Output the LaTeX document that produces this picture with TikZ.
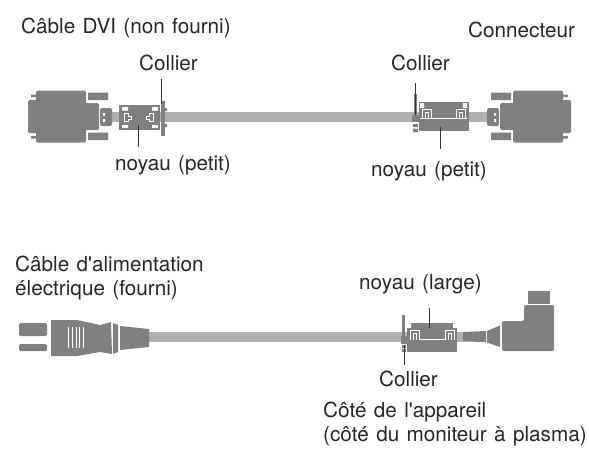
\documentclass[tikz,border=0pt]{standalone}
\usepackage{fontspec}
\setmainfont{TeX Gyre Heros}[WordSpace=1.28]
\tikzset{
  lbl/.style={inner sep=0pt,anchor=west,font=\fontsize{20.7}{24}\selectfont,text=black!85},
  darkpart/.style={fill=black!50,draw=none},
  cablepart/.style={fill=black!31,draw=none},
  gappart/.style={fill=white,draw=none},
  coremark/.style={draw=white,line width=.7pt},
  leader/.style={draw=black!80,line width=.8pt},
}
\begin{document}
\begin{tikzpicture}[x=1pt,y=-1pt]
  \useasboundingbox (0,0) rectangle (589,458);
  % labels
  \node (dvi)[lbl] at (21,28) {Câble DVI (non fourni)};
  \node (conn)[lbl] at (468,30) {Connecteur};
  \node (col1)[lbl] at (139,63) {Collier};
  \node (col2)[lbl] at (391,63) {Collier};
  \node (noy1)[lbl] at (115,165) {noyau (petit)};
  \node (noy2)[lbl] at (371,171) {noyau (petit)};
  \node (alim)[lbl,align=left] at (15,278) {Câble d\textquotesingle alimentation\\électrique (fourni)};
  \node (noy3)[lbl] at (359,284) {noyau (large)};
  \node (col3)[lbl] at (379,379) {Collier};
  \node (app)[lbl,align=left] at (323,424) {Côté de l\textquotesingle appareil\\(côté du moniteur à plasma)};

  % DVI cable
  \fill[cablepart] (112,112) rectangle (487,122);
  \foreach \xs/\fl in {0/1,599/-1}
  {
    \begin{scope}[xshift=\xs,xscale=\fl]
      \fill[darkpart,rounded corners=1.5pt] (36,90.5) rectangle (86,142.7);
      \fill[darkpart,rounded corners=1.5pt] (28,100) rectangle (37,133);
      \fill[darkpart] (31,94.5) rectangle (36,97) (31,136) rectangle (36,138.5);
      \fill[darkpart,rounded corners=1.5pt] (85,103) rectangle (99,130);
      \fill[darkpart] (88,92.5) rectangle (108,100) (88,132.5) rectangle (108,140);
      \fill[darkpart,rounded corners=2pt] (100,108) rectangle (112,126);
      \fill[gappart] (103,113) rectangle (105,115.5) (103,119) rectangle (105,122);
    \end{scope}
  }

  % left core and collar
  \fill[darkpart] (119,105) rectangle (160,130);
  \fill[gappart] (122,107) rectangle (128,110.5) (152,107) rectangle (158,110.5)
                 (122,125) rectangle (128,128) (152,125) rectangle (158,128);
  \draw[coremark] (124,113.5) -- (124,121) -- (128,121) -- (128,119) -- (131,119) -- (131,116) -- (128,116) -- (128,113.5) -- cycle;
  \draw[coremark] (153.5,113) -- (153.5,121) -- (149,121) -- (149,119) -- (146,119) -- (146,116) -- (149,116) -- (149,113) -- cycle;
  \fill[darkpart] (161,101) rectangle (165,136);
  \fill[darkpart] (165,108) rectangle (167,111) (165,124) rectangle (167,127);

  % right core and collar
  \fill[darkpart] (419,102) rectangle (469,131);
  \fill[gappart] (420,103) rectangle (424,108) (463,103) rectangle (467,108);
  \draw[coremark,line width=1pt] (420,118) -- (467,118);
  \foreach \x in {422,456}
    \draw[coremark] (\x,118) -- (\x,109.5) -- (\x+9,109.5) -- (\x+9,118)
      (\x+3,118) -- (\x+3,112.5) -- (\x+6,112.5) -- (\x+6,118);
  \fill[darkpart] (414,94) rectangle (417,115);
  \fill[darkpart] (412,115) rectangle (420,122);
  \fill[darkpart] (413,124) rectangle (418,127) (413,128.5) rectangle (418,132);

  % power cable
  \fill[cablepart] (149,332) rectangle (463,342);
  \fill[darkpart,rounded corners=1.5pt] (19,323) rectangle (47,336) (19,344) rectangle (47,351);
  \fill[darkpart] (51,320) -- (77,320) -- (100,325) -- (111,322) -- (112,354) -- (100,352) -- (77,356) -- (51,356) -- cycle;
  \foreach \x in {68,72,76,79.5,83}
    \draw[white,line width=.8pt] (\x,327) -- (\x,348);
  \fill[darkpart] (113,323) -- (118,325) -- (118,352) -- (113,354) -- cycle;
  \fill[darkpart] (120,326) -- (149,329) -- (149,347) -- (120,350) -- cycle;

  % power core, collar and angled plug
  \fill[darkpart] (407,323) rectangle (457,352);
  \fill[gappart] (407,323) rectangle (411,328) (453,323) rectangle (457,328);
  \draw[coremark,line width=1pt] (419,339.5) -- (445,339.5);
  \foreach \x in {410,445}
    \draw[coremark] (\x,339.5) -- (\x,330.5) -- (\x+9,330.5) -- (\x+9,339.5)
      (\x+3,339.5) -- (\x+3,333.5) -- (\x+6,333.5) -- (\x+6,339.5);
  \fill[darkpart] (402,315) rectangle (405,336);
  \fill[darkpart] (401,336) rectangle (408,344);
  \fill[darkpart] (402,345) rectangle (406,348) (402,349) rectangle (406,352);
  \fill[darkpart] (463,332) -- (486,331) -- (486,342) -- (463,341.5) -- cycle;
  \fill[darkpart] (487,331) -- (500,325.5) -- (500,347) -- (487,342.5) -- cycle;
  \fill[darkpart,rounded corners=2pt] (502,321) -- (524,321) -- (524,305) -- (554,305) -- (554,351) -- (502,351) -- cycle;
  \fill[darkpart] (528,291) rectangle (550,304);

  % leader lines
  \coordinate (l1a) at (161,79);
  \coordinate (l1b) at (161,104);
  \coordinate (l2a) at (138,125);
  \coordinate (l2b) at (138,147);
  \coordinate (l3a) at (415,83);
  \coordinate (l3b) at (415,115);
  \coordinate (l4a) at (440,127);
  \coordinate (l4b) at (440,149);
  \coordinate (l5a) at (429,308);
  \coordinate (l5b) at (429,328);
  \coordinate (l6a) at (404,345);
  \coordinate (l6b) at (404,365);
  \foreach \from/\to in {l1a/l1b,l2a/l2b,l3a/l3b,l4a/l4b,l5a/l5b,l6a/l6b}
    \draw[leader] (\from) -- (\to);
\end{tikzpicture}
\end{document}
